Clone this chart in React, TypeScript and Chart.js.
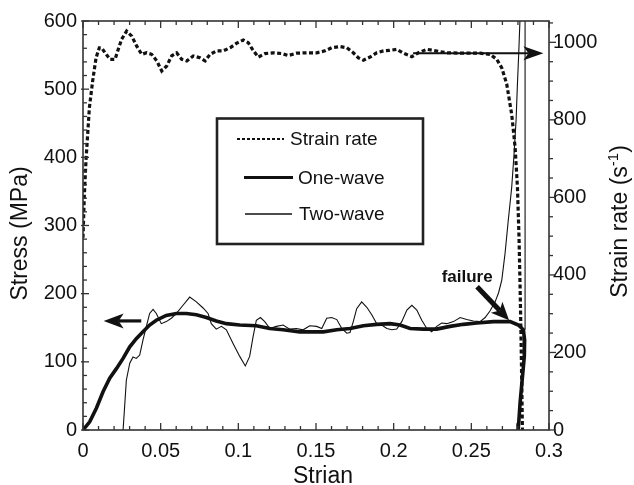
import React, { useEffect, useRef } from "react";
import { Chart, registerables } from "chart.js";

Chart.register(...registerables);

// ---------------- data ----------------
const rateStrain = [0, 0.0008, 0.0019, 0.0041, 0.0062, 0.0084, 0.0105, 0.012, 0.0142, 0.0174, 0.0206, 0.0227, 0.0249, 0.0281, 0.0314, 0.0346, 0.0378, 0.041, 0.0442, 0.0475, 0.0507, 0.0539, 0.0571, 0.0603, 0.0636, 0.0668, 0.071, 0.0753, 0.0786, 0.0818, 0.0861, 0.0903, 0.0947, 0.099, 0.1032, 0.1064, 0.1097, 0.1129, 0.1172, 0.1225, 0.1279, 0.1322, 0.1376, 0.144, 0.1505, 0.1558, 0.1601, 0.1655, 0.1698, 0.174, 0.1773, 0.1805, 0.1848, 0.1891, 0.1934, 0.1972, 0.202, 0.2062, 0.2117, 0.2159, 0.2213, 0.2256, 0.2342, 0.2449, 0.2556, 0.2621, 0.2664, 0.2696, 0.2728, 0.276, 0.2782, 0.2797, 0.2807, 0.2814, 0.282, 0.2825, 0.2829];
const rateValues = [496, 599, 694, 831, 900, 960, 986, 986, 973, 956, 956, 982, 1008, 1029, 1016, 990, 969, 973, 969, 952, 926, 939, 965, 973, 956, 952, 965, 960, 952, 969, 978, 978, 986, 998, 1006, 999, 978, 962, 971, 973, 971, 966, 972, 973, 973, 978, 986, 989, 986, 973, 960, 954, 962, 973, 978, 979, 982, 972, 963, 973, 982, 979, 973, 972, 972, 969, 956, 934, 892, 814, 728, 625, 496, 367, 238, 109, 0];

const oneStrain = [0, 0.0043, 0.0086, 0.0129, 0.0172, 0.0215, 0.0258, 0.0301, 0.0343, 0.0386, 0.0429, 0.0472, 0.0536, 0.0601, 0.0665, 0.073, 0.0794, 0.0858, 0.0923, 0.1009, 0.1116, 0.1202, 0.1288, 0.1395, 0.1462, 0.1547, 0.1634, 0.1719, 0.1805, 0.1891, 0.1977, 0.2041, 0.2106, 0.2191, 0.2277, 0.2363, 0.2449, 0.2535, 0.2642, 0.275, 0.2803, 0.2835, 0.2843, 0.2841, 0.2826, 0.2814, 0.2805, 0.2801];
const oneStress = [0, 12, 32, 56, 76, 90, 105, 122, 134, 144, 154, 161, 168, 171, 171, 169, 165, 160, 156, 154, 153, 149, 147, 144, 144, 144, 147, 149, 153, 155, 156, 154, 149, 148, 148, 152, 155, 157, 159, 159, 154, 147, 132, 108, 70, 40, 10, 0];

const twoStrain = [0.0258, 0.0268, 0.0279, 0.0301, 0.0322, 0.0343, 0.0365, 0.0386, 0.0408, 0.0429, 0.0451, 0.0472, 0.0504, 0.0536, 0.0569, 0.0601, 0.0644, 0.0687, 0.073, 0.0773, 0.0805, 0.0826, 0.0858, 0.0891, 0.0923, 0.0966, 0.1009, 0.1045, 0.1073, 0.1095, 0.1116, 0.1142, 0.117, 0.1202, 0.1245, 0.1288, 0.1331, 0.1374, 0.1417, 0.146, 0.1504, 0.1537, 0.1569, 0.1601, 0.1634, 0.1666, 0.1698, 0.1719, 0.174, 0.1762, 0.1794, 0.1827, 0.1859, 0.1891, 0.1923, 0.1956, 0.1988, 0.202, 0.2052, 0.2085, 0.2117, 0.2149, 0.2181, 0.2213, 0.2245, 0.2277, 0.2309, 0.2342, 0.2385, 0.2428, 0.247, 0.2513, 0.2556, 0.2589, 0.2621, 0.2653, 0.2675, 0.2696, 0.2717, 0.2738, 0.276, 0.2775, 0.2788, 0.2796, 0.2805, 0.2813, 0.282, 0.2835, 0.2846, 0.2846];
const twoStress = [0, 34, 73, 98, 107, 105, 110, 132, 152, 171, 177, 171, 156, 159, 164, 171, 183, 195, 188, 179, 171, 156, 148, 152, 147, 127, 108, 94, 108, 137, 161, 165, 159, 149, 152, 154, 148, 149, 147, 153, 152, 149, 164, 165, 162, 149, 142, 143, 159, 178, 188, 180, 169, 156, 154, 149, 147, 148, 159, 176, 183, 176, 161, 149, 144, 152, 157, 156, 159, 165, 162, 160, 159, 165, 175, 188, 201, 220, 259, 308, 356, 405, 454, 503, 552, 601, 660, 660, 600, 147];

const seriesLabels = ["Strain rate", "One-wave", "Two-wave"];

const xTickValues = [0, 0.05, 0.1, 0.15, 0.2, 0.25, 0.3];
const xTickLabels = ["0", "0.05", "0.1", "0.15", "0.2", "0.25", "0.3"];
const yTickValues = [0, 100, 200, 300, 400, 500, 600];
const yTickLabels = ["0", "100", "200", "300", "400", "500", "600"];
const y2TickValues = [0, 200, 400, 600, 800, 1000];
const y2TickLabels = ["0", "200", "400", "600", "800", "1000"];

const xTitle = "Strian";
const yTitle = "Stress (MPa)";
const y2TitleMain = "Strain rate (s";
const y2TitleSup = "-1";
const y2TitleEnd = ")";
const failureLabel = "failure";

// annotation anchor points, in data units
const leftArrow = { fromX: 0.0375, toX: 0.0133, y: 160 };
const rightArrow = { fromX: 0.2125, toX: 0.2964, y: 972 };
const failureArrow = { fromX: 0.2537, fromY: 210, toX: 0.2743, toY: 161 };
const failureText = { x: 0.2473, y: 224 };

const FONT = "'Liberation Sans', Arial, sans-serif";
const INK = "#111";

const zip = (xs: number[], ys: number[]) => xs.map((x, i) => ({ x, y: ys[i] }));

function drawArrow(ctx: CanvasRenderingContext2D, x1: number, y1: number, x2: number, y2: number, w: number, hl: number, hw: number) {
  const ang = Math.atan2(y2 - y1, x2 - x1);
  const c = Math.cos(ang), s = Math.sin(ang);
  const bx = x2 - c * hl, by = y2 - s * hl;
  const nx = x2 - c * hl * 0.75, ny = y2 - s * hl * 0.75;
  ctx.lineWidth = w;
  ctx.lineCap = "butt";
  ctx.beginPath();
  ctx.moveTo(x1, y1);
  ctx.lineTo(nx, ny);
  ctx.stroke();
  ctx.beginPath();
  ctx.moveTo(x2, y2);
  ctx.lineTo(bx - s * hw, by + c * hw);
  ctx.lineTo(nx, ny);
  ctx.lineTo(bx + s * hw, by - c * hw);
  ctx.closePath();
  ctx.fill();
}

const overlayPlugin = {
  id: "overlay",
  afterDraw(chart: any) {
    const { ctx, chartArea: a, scales } = chart;
    const sx = scales.x, sy = scales.y, sy2 = scales.y2;
    ctx.save();
    ctx.strokeStyle = INK;
    ctx.fillStyle = INK;
    const seg = (x1: number, y1: number, x2: number, y2: number) => {
      ctx.beginPath();
      ctx.moveTo(x1, y1);
      ctx.lineTo(x2, y2);
      ctx.stroke();
    };
    // frame
    ctx.strokeStyle = "#333";
    ctx.lineWidth = 1.6;
    ctx.strokeRect(a.left, a.top, a.right - a.left, a.bottom - a.top);
    ctx.lineWidth = 1.3;
    // x ticks (bottom + top, inward)
    for (let i = 0; i <= 30; i++) {
      const px = sx.getPixelForValue(i * 0.01);
      const len = i % 5 === 0 ? 7 : 4;
      seg(px, a.bottom, px, a.bottom - len);
      seg(px, a.top, px, a.top + len);
    }
    // left y ticks (inward)
    for (let i = 0; i <= 30; i++) {
      const py = sy.getPixelForValue(i * 20);
      const major = i % 5 === 0;
      seg(a.left - (major ? 2 : 0), py, a.left + (major ? 6 : 4), py);
    }
    // right y ticks (outward)
    for (let i = 0; i <= 21; i++) {
      const v = i * 50;
      if (v > sy2.max) break;
      const py = sy2.getPixelForValue(v);
      seg(a.right, py, a.right + (i % 4 === 0 ? 7 : 4), py);
    }
    ctx.strokeStyle = INK;

    // titles
    ctx.fillStyle = INK;
    ctx.font = `23px ${FONT}`;
    ctx.textAlign = "center";
    ctx.textBaseline = "alphabetic";
    ctx.fillText(xTitle, (a.left + a.right) / 2 + 7, 483);
    ctx.save();
    ctx.translate(27, (a.top + a.bottom) / 2 + 8);
    ctx.rotate(-Math.PI / 2);
    ctx.fillText(yTitle, 0, 0);
    ctx.restore();
    ctx.save();
    ctx.translate(627, (a.top + a.bottom) / 2 - 4);
    ctx.rotate(-Math.PI / 2);
    ctx.textAlign = "left";
    ctx.font = `23px ${FONT}`;
    const w1 = ctx.measureText(y2TitleMain).width;
    const w3 = ctx.measureText(y2TitleEnd).width;
    ctx.font = `15px ${FONT}`;
    const w2 = ctx.measureText(y2TitleSup).width;
    let cx = -(w1 + w2 + w3) / 2;
    ctx.font = `23px ${FONT}`;
    ctx.fillText(y2TitleMain, cx, 0);
    cx += w1;
    ctx.font = `15px ${FONT}`;
    ctx.fillText(y2TitleSup, cx, -9);
    cx += w2;
    ctx.font = `23px ${FONT}`;
    ctx.fillText(y2TitleEnd, cx, 0);
    ctx.restore();

    // legend box
    ctx.lineWidth = 2.6;
    ctx.strokeStyle = "#222";
    ctx.strokeRect(217, 118.5, 206, 125.5);
    ctx.strokeStyle = INK;
    ctx.font = `19px ${FONT}`;
    ctx.textAlign = "left";
    ctx.textBaseline = "middle";
    // strain rate sample
    ctx.lineWidth = 2;
    ctx.setLineDash([3, 2]);
    seg(237, 139, 284, 139);
    ctx.setLineDash([]);
    ctx.fillText(seriesLabels[0], 290, 140);
    ctx.lineWidth = 3;
    seg(244, 177.5, 293, 177.5);
    ctx.fillText(seriesLabels[1], 298, 178.5);
    ctx.lineWidth = 1.3;
    seg(245, 214, 292, 214);
    ctx.fillText(seriesLabels[2], 299, 215);

    // arrows
    drawArrow(ctx, sx.getPixelForValue(leftArrow.fromX), sy.getPixelForValue(leftArrow.y), sx.getPixelForValue(leftArrow.toX), sy.getPixelForValue(leftArrow.y), 3.2, 20, 7.5);
    drawArrow(ctx, sx.getPixelForValue(rightArrow.fromX), sy2.getPixelForValue(rightArrow.y), sx.getPixelForValue(rightArrow.toX), sy2.getPixelForValue(rightArrow.y), 2, 20, 7);
    drawArrow(ctx, sx.getPixelForValue(failureArrow.fromX), sy.getPixelForValue(failureArrow.fromY), sx.getPixelForValue(failureArrow.toX), sy.getPixelForValue(failureArrow.toY), 5, 18, 8);
    ctx.font = `bold 17px ${FONT}`;
    ctx.textAlign = "center";
    ctx.textBaseline = "middle";
    ctx.fillText(failureLabel, sx.getPixelForValue(failureText.x), sy.getPixelForValue(failureText.y));
    ctx.restore();
  },
};

export default function App() {
  const ref = useRef<HTMLCanvasElement | null>(null);
  useEffect(() => {
    if (!ref.current) return;
    const tickFont = { family: FONT, size: 20 };
    const chart = new Chart(ref.current, {
      type: "line",
      data: {
        datasets: [
          {
            label: seriesLabels[1],
            data: zip(oneStrain, oneStress),
            yAxisID: "y",
            borderColor: INK,
            borderWidth: 3.6,
            pointRadius: 0,
            tension: 0,
            fill: false,
            clip: 0,
            order: 0,
          },
          {
            label: seriesLabels[2],
            data: zip(twoStrain, twoStress),
            yAxisID: "y",
            borderColor: INK,
            borderWidth: 1.1,
            pointRadius: 0,
            tension: 0,
            fill: false,
            clip: 0,
            order: 1,
          },
          {
            label: seriesLabels[0],
            data: zip(rateStrain, rateValues),
            yAxisID: "y2",
            borderColor: INK,
            borderWidth: 3.2,
            borderDash: [4, 2.5],
            pointRadius: 0,
            tension: 0,
            fill: false,
            clip: 0,
            order: 2,
          },
        ],
      },
      options: {
        responsive: false,
        animation: false,
        devicePixelRatio: 1,
        layout: { padding: { top: 21, left: 0, right: 0, bottom: 0 } },
        plugins: { legend: { display: false }, tooltip: { enabled: false } },
        scales: {
          x: {
            type: "linear",
            min: 0,
            max: 0.3,
            grid: { display: false, drawTicks: false },
            border: { display: false },
            ticks: {
              font: tickFont,
              color: INK,
              padding: 9,
              maxRotation: 0,
              callback: (v: any, i: number) => xTickLabels[i],
            },
            afterBuildTicks: (s: any) => {
              s.ticks = xTickValues.map((v) => ({ value: v }));
            },
            afterFit: (s: any) => {
              s.height = 55;
            },
          },
          y: {
            type: "linear",
            position: "left",
            min: 0,
            max: 600,
            grid: { display: false, drawTicks: false },
            border: { display: false },
            ticks: {
              font: tickFont,
              color: INK,
              padding: 6,
              callback: (v: any, i: number) => yTickLabels[i],
            },
            afterBuildTicks: (s: any) => {
              s.ticks = yTickValues.map((v) => ({ value: v }));
            },
            afterFit: (s: any) => {
              s.width = 83;
            },
          },
          y2: {
            type: "linear",
            position: "right",
            min: 0,
            max: 1055,
            grid: { display: false, drawTicks: false },
            border: { display: false },
            ticks: {
              font: tickFont,
              color: INK,
              padding: 4,
              callback: (v: any, i: number) => y2TickLabels[i],
            },
            afterBuildTicks: (s: any) => {
              s.ticks = y2TickValues.map((v) => ({ value: v }));
            },
            afterFit: (s: any) => {
              s.width = 85;
            },
          },
        },
      },
      plugins: [overlayPlugin],
    } as any);
    return () => chart.destroy();
  }, []);
  return (
    <div style={{ position: "fixed", left: 0, top: 0, width: 634, height: 485, background: "#fff" }}>
      <canvas ref={ref} width={634} height={485} style={{ display: "block" }} />
    </div>
  );
}
